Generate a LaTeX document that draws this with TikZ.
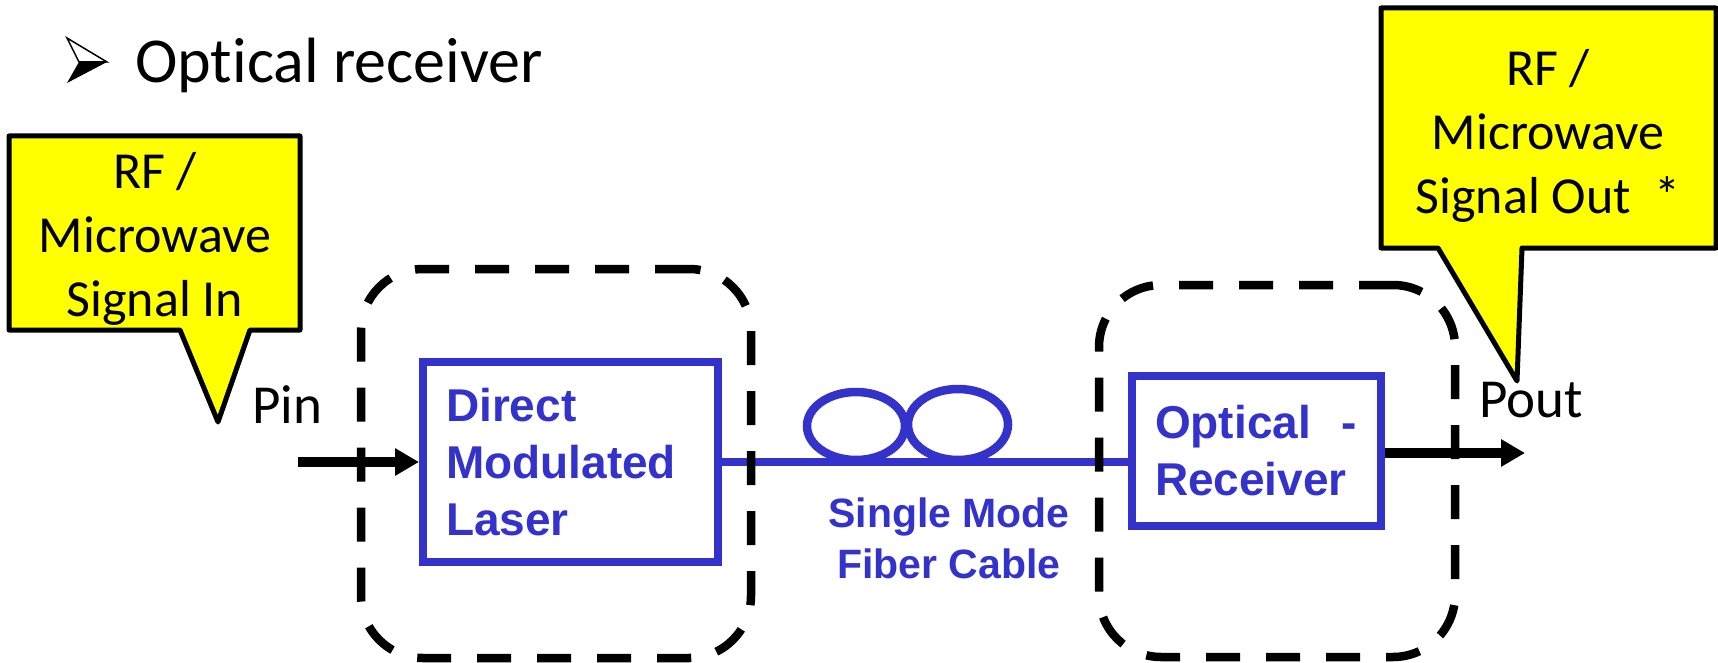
\documentclass[tikz,border=0pt]{standalone}
\usepackage{fontspec}
\setmainfont{Carlito}[Ligatures=NoCommon, Contextuals=NoAlternate]
\newfontfamily\arialfont{Liberation Sans}
\usetikzlibrary{arrows.meta}
\definecolor{fiberblue}{RGB}{51,51,204}
\definecolor{noteyellow}{RGB}{255,255,0}

\begin{document}
\begin{tikzpicture}[x=1pt, y=-1pt,
  block/.style = {draw=fiberblue, line width=8pt, text=fiberblue, align=left, inner sep=0pt,
    font=\arialfont\bfseries\fontsize{46}{57}\selectfont},
  group/.style = {draw, line width=8.5pt, dash pattern=on 34pt off 26pt, rounded corners=62pt, inner sep=0pt},
  note/.style = {draw, fill=noteyellow, line width=5pt, line join=round},
  notetext/.style = {font=\fontsize{52}{64}\selectfont, align=center},
  label/.style = {anchor=base west, inner sep=0pt, font=\fontsize{55}{68}\selectfont},
  sig/.style = {line width=9.5pt, -{Triangle[length=24pt, width=26pt]}}]
  \useasboundingbox (0,0) rectangle (1718,663);

  % heading with bullet
  \fill (79,62) -- (107,62) -- (67,83) -- cycle;
  \draw[line width=1.5pt] (67,38) -- (107,62) -- (79,62) -- cycle;
  \node[label, font=\fontsize{64}{76}\selectfont] (title) at (135,83) {Optical receiver};

  % blocks
  \node[block, minimum width=295pt, minimum height=200pt, text width=249pt] (laser) at (570.5,462) {Direct\\Modulated\\Laser};
  \node[block, minimum width=249pt, minimum height=150pt, text width=203pt] (rx) at (1256.5,451) {Optical\ \ -\\Receiver};

  % fiber with two coils
  \draw[fiberblue, line width=8.5pt] (laser.east) -- (laser.east -| rx.west);
  \draw[fiberblue, line width=8.5pt] (856,426) ellipse [x radius=49, y radius=34];
  \draw[fiberblue, line width=8.5pt] (958,424.5) ellipse [x radius=50, y radius=35.5];
  \node[text=fiberblue, align=center, font=\arialfont\bfseries\fontsize{41}{51}\selectfont] (fiber) at (949,538) {Single Mode\\Fiber Cable};

  % signal in and out
  \coordinate (pinstart) at (298,462);
  \coordinate (poutend) at (1525,453);
  \draw[sig] (pinstart) -- (laser.west);
  \draw[sig] (rx.east |- poutend) -- (poutend);
  \node[label] (pin) at (252,423) {Pin};
  \node[label] (pout) at (1479,417) {Pout};

  % dashed groups
  \node[group, minimum width=390pt, minimum height=389pt] (txgroup) at (556,463.5) {};
  \node[group, minimum width=356pt, minimum height=372pt] (rxgroup) at (1277,471) {};

  % callouts
  \draw[note] (9,136) -- (300,136) -- (300,330) -- (250,330) -- (218,422) -- (180,330) -- (9,330) -- cycle;
  \node[notetext] (sigin) at (155,239) {RF /\\Microwave\\Signal In};
  \draw[note] (1381,8) -- (1716,8) -- (1716,248) -- (1522,248) -- (1517,381) -- (1438,248) -- (1381,248) -- cycle;
  \node[notetext] (sigout) at (1548,136) {RF /\\Microwave\\Signal Out\ \ *};
\end{tikzpicture}
\end{document}
